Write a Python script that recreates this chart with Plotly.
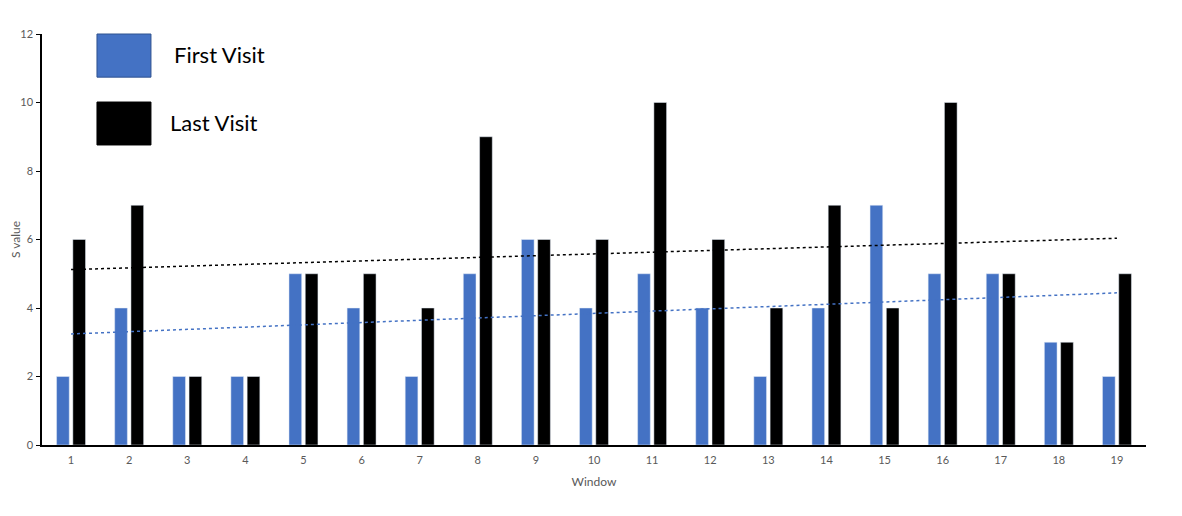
import numpy as np
import plotly.graph_objects as go

windows = list(range(1, 20))
first_visit = [2, 4, 2, 2, 5, 4, 2, 5, 6, 4, 5, 4, 2, 4, 7, 5, 5, 3, 2]
last_visit = [6, 7, 2, 2, 5, 5, 4, 9, 6, 6, 10, 6, 4, 7, 4, 10, 5, 3, 5]
y_ticks = [0, 2, 4, 6, 8, 10, 12]

BLUE = "#4472C4"
BLACK = "#000000"
GRAY = "#595959"
FONT = "Lato, Open Sans, sans-serif"

x = np.array(windows, dtype=float)
fb = np.polyfit(x, first_visit, 1)
lb = np.polyfit(x, last_visit, 1)

fig = go.Figure()
fig.add_trace(go.Bar(x=windows, y=first_visit, name="First Visit", marker_color=BLUE))
fig.add_trace(go.Bar(x=windows, y=last_visit, name="Last Visit", marker_color=BLACK))
fig.add_trace(go.Scatter(x=windows, y=np.polyval(fb, x), mode="lines",
                         line=dict(color=BLUE, width=1.5, dash="dot"), showlegend=False))
fig.add_trace(go.Scatter(x=windows, y=np.polyval(lb, x), mode="lines",
                         line=dict(color=BLACK, width=1.5, dash="dot"), showlegend=False))

# Legend drawn as large boxes with text
fig.add_shape(type="rect", xref="paper", yref="paper", x0=0.0498, x1=0.0987, y0=0.895, y1=1.0,
              fillcolor=BLUE, line=dict(color="#2F528F", width=1))
fig.add_shape(type="rect", xref="paper", yref="paper", x0=0.0498, x1=0.0987, y0=0.730, y1=0.8345,
              fillcolor=BLACK, line=dict(color=BLACK, width=1))
fig.add_annotation(text="First Visit", xref="paper", yref="paper", x=0.1178, y=0.949,
                   xanchor="left", yanchor="middle", showarrow=False,
                   font=dict(family=FONT, size=22, color="#000000"))
fig.add_annotation(text="Last Visit", xref="paper", yref="paper", x=0.114, y=0.7835,
                   xanchor="left", yanchor="middle", showarrow=False,
                   font=dict(family=FONT, size=22, color="#000000"))

fig.update_layout(
    width=1182, height=516,
    margin=dict(l=34, r=44, t=26, b=79),
    paper_bgcolor="white", plot_bgcolor="white",
    barmode="group", bargap=0.44, bargroupgap=0.22,
    showlegend=False,
    font=dict(family=FONT, size=11, color=GRAY),
    xaxis=dict(tickmode="array", tickvals=windows, ticktext=[str(w) for w in windows],
               range=[0.5, 19.5], showgrid=False, zeroline=False, automargin=False,
               showline=True, linecolor="black", linewidth=1.5, ticks="",
               ticklabelstandoff=4,
               tickfont=dict(family=FONT, size=11, color=GRAY),
               title=dict(text="Window", font=dict(family=FONT, size=12, color=GRAY), standoff=13)),
    yaxis=dict(tickmode="array", tickvals=y_ticks, range=[0, 12], showgrid=False, zeroline=False,
               automargin=False,
               showline=True, linecolor="black", linewidth=1.5, ticks="outside", ticklen=4,
               ticklabelstandoff=1,
               tickcolor="black", tickfont=dict(family=FONT, size=11, color=GRAY),
               title=dict(text="S value", font=dict(family=FONT, size=12, color=GRAY), standoff=12)),
)

fig.write_html("out.html")
